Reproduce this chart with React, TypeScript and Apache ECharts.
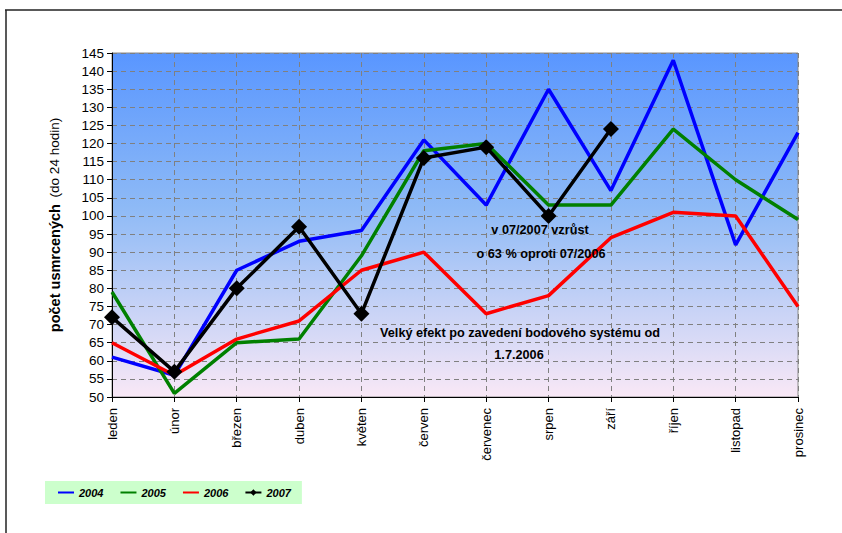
import React, { useEffect, useRef } from "react";
import * as echarts from "echarts";

const months = ["leden", "únor", "březen", "duben", "květen", "červen", "červenec", "srpen", "září", "říjen", "listopad", "prosinec"];
const s2004 = [61, 56, 85, 93, 96, 121, 103, 135, 107, 143, 92, 123];
const s2005 = [79, 51, 65, 66, 89, 118, 120, 103, 103, 124, 110, 99];
const s2006 = [65, 56, 66, 71, 85, 90, 73, 78, 94, 101, 100, 75];
const s2007 = [72, 57, 80, 97, 73, 116, 119, 100, 124];
const seriesNames = ["2004", "2005", "2006", "2007"];
const yMin = 50;
const yMax = 145;
const yStep = 5;
const yTitleBold = "počet usmrcených";
const yTitleNormal = "(do 24 hodin)";
const note1 = ["v 07/2007 vzrůst", "o 63 % oproti 07/2006"];
const note2 = ["Velký efekt po zavedení bodového systému od", "1.7.2006"];

export default function App() {
  const ref = useRef<HTMLDivElement>(null);
  useEffect(() => {
    const chart = echarts.init(ref.current!, null, { renderer: "svg" });
    const font = "Liberation Sans, Arial, sans-serif";
    const lineSeries = (name: string, data: number[], color: string, marker: boolean) => ({
      name,
      type: "line",
      data,
      symbol: marker ? "diamond" : "none",
      symbolSize: marker ? 16 : 0,
      showSymbol: marker,
      itemStyle: { color },
      lineStyle: { color, width: 3.5 },
      z: marker ? 5 : 3,
    });
    const noteText = (text: string, x: number, y: number) => ({
      type: "text",
      x,
      y,
      z: 100,
      style: {
        text,
        fill: "#000",
        font: `bold 12.7px ${font}`,
        textAlign: "center",
        textVerticalAlign: "middle",
      },
    });
    chart.setOption({
      animation: false,
      backgroundColor: "#ffffff",
      textStyle: { fontFamily: font },
      grid: {
        left: 112,
        top: 53,
        right: 44,
        bottom: 136,
        show: true,
        borderColor: "#8a8a8a",
        borderWidth: 1,
        backgroundColor: new echarts.graphic.LinearGradient(0, 0, 0, 1, [
          { offset: 0, color: "#5996ff" },
          { offset: 0.45, color: "#8ebaf6" },
          { offset: 1, color: "#f9e8f6" },
        ]),
      },
      legend: {
        left: 45,
        top: 481,
        padding: [6, 11, 6, 12],
        backgroundColor: "#ccffcc",
        itemWidth: 16,
        itemHeight: 8,
        itemGap: 16,
        lineStyle: { width: 2 },
        data: [
          { name: seriesNames[0], itemStyle: { opacity: 0 } },
          { name: seriesNames[1], itemStyle: { opacity: 0 } },
          { name: seriesNames[2], itemStyle: { opacity: 0 } },
          { name: seriesNames[3] },
        ],
        textStyle: { fontFamily: font, fontSize: 11, fontWeight: "bold", fontStyle: "italic", color: "#000" },
      },
      xAxis: {
        type: "category",
        data: months,
        boundaryGap: false,
        axisLine: { lineStyle: { color: "#000", width: 1 } },
        axisTick: { show: true, inside: false, length: 5, alignWithLabel: true, lineStyle: { color: "#000" } },
        axisLabel: { rotate: 90, fontSize: 13, color: "#000", margin: 11, fontFamily: font, interval: 0 },
        splitLine: { show: true, lineStyle: { color: "#808080", type: [5, 4], width: 1 } },
      },
      yAxis: {
        type: "value",
        min: yMin,
        max: yMax,
        interval: yStep,
        name: `{b|${yTitleBold}}  {n|${yTitleNormal}}`,
        nameLocation: "middle",
        nameGap: 50,
        nameRotate: 90,
        nameTextStyle: {
          rich: {
            b: { fontWeight: "bold", fontSize: 14.5, fontFamily: font, color: "#000" },
            n: { fontSize: 13.5, fontFamily: font, color: "#000" },
          },
        },
        axisLine: { show: true, lineStyle: { color: "#000", width: 1 } },
        axisTick: { show: true, length: 5, lineStyle: { color: "#000" } },
        axisLabel: { fontSize: 13.5, color: "#000", margin: 8, fontFamily: font },
        splitLine: { show: true, lineStyle: { color: "#808080", type: [5, 4], width: 1 } },
      },
      series: [
        lineSeries(seriesNames[0], s2004, "#0000ff", false),
        lineSeries(seriesNames[1], s2005, "#008000", false),
        lineSeries(seriesNames[2], s2006, "#ff0000", false),
        lineSeries(seriesNames[3], s2007, "#000000", true),
      ],
      graphic: [
        { type: "line", shape: { x1: 5, y1: 10, x2: 842, y2: 10 }, style: { stroke: "#222", lineWidth: 1.5 } },
        { type: "line", shape: { x1: 6, y1: 10, x2: 6, y2: 533 }, style: { stroke: "#222", lineWidth: 1.5 } },
        noteText(note1[0], 540, 230),
        noteText(note1[1], 541, 254),
        noteText(note2[0], 520, 333),
        noteText(note2[1], 519, 355),
      ],
    });
    return () => chart.dispose();
  }, []);
  return <div ref={ref} style={{ width: 842, height: 533, position: "absolute", left: 0, top: 0 }} />;
}
